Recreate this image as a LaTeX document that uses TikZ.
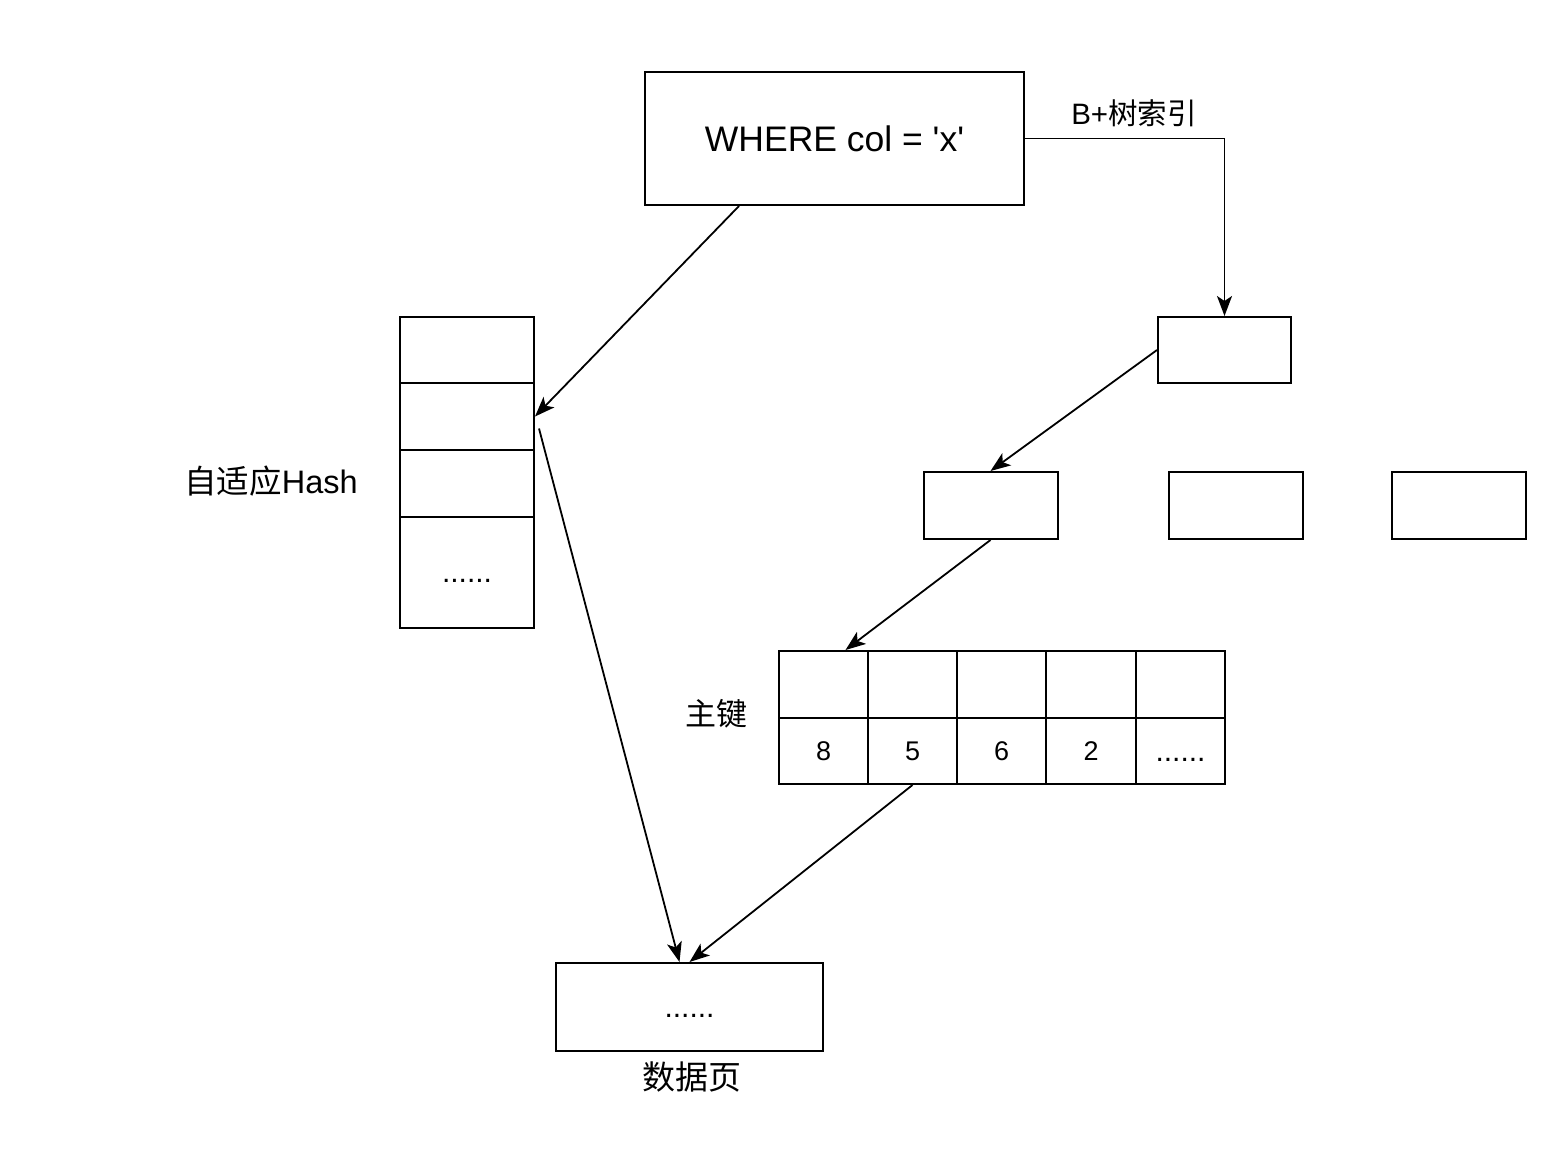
\documentclass[tikz,border=0pt]{standalone}
\usepackage{fontspec}
\setmainfont{Liberation Sans}
\newfontfamily\cjk{Noto Sans CJK SC}
\usetikzlibrary{arrows.meta,calc}
% six dots, set on the baseline of a digit so they sit low in the cell
\newcommand\sixdots{{\fontsize{30pt}{34pt}\selectfont\vphantom{8}......}}

\begin{document}
\begin{tikzpicture}[x=1pt,y=-1pt,
  box/.style={draw, line width=2pt, inner sep=0pt, minimum width=#1},
  box/.default=134pt,
  lbl/.style={inner sep=0pt, font=\fontsize{32.5pt}{36pt}\selectfont},
  cellnum/.style={font=\fontsize{27pt}{30pt}\selectfont},
  link/.style={line width=1.8pt, -{Stealth[length=20pt,width=15pt,inset=5pt]}}
]
\useasboundingbox (0,0) rectangle (1558,1164);

% query
\node[box=379pt, minimum height=133pt, font=\fontsize{35.5pt}{40pt}\selectfont]
  (q) at (834.5,138.5) {WHERE col = \textquotesingle x\textquotesingle};
\node[lbl, font=\fontsize{29.5pt}{32pt}\selectfont] (bl) at (1134,113) {B+{\cjk 树索引}};

% adaptive hash table
\node[box, minimum height=66pt]  (h1) at (467,350) {};
\node[box, minimum height=67pt]  (h2) at (467,416.5) {};
\node[box, minimum height=67pt]  (h3) at (467,483.5) {};
\node[box, minimum height=111pt, cellnum] (h4) at (467,572.5) {\sixdots};
\node[lbl] (hl) at (271,481) {{\cjk 自适应}Hash};

% B+ tree nodes
\node[box=133pt, minimum height=66pt] (root) at (1224.5,350) {};
\node[box, minimum height=67pt] (na) at (990.5,505.5) {};
\node[box, minimum height=67pt] (nb) at (1236,505.5) {};
\node[box, minimum height=67pt] (nc) at (1459,505.5) {};

% leaf: primary keys
\foreach \i/\x/\v in {1/823.5/8, 2/912.5/5, 3/1001.5/6, 4/1091/2, 5/1180.5/\sixdots}{
  \node[box=89.3pt, minimum height=67pt] (k\i) at (\x,684.5) {};
  \node[box=89.3pt, minimum height=66pt, cellnum] (v\i) at (\x,751) {\v};
}
\node[lbl, font=\fontsize{31pt}{36pt}\selectfont\cjk] (kl) at (716,714) {主键};

% data page
\node[box=267pt, minimum height=88pt, cellnum] (dp) at (689.5,1007) {\sixdots};
\node[lbl, font=\fontsize{33pt}{36pt}\selectfont\cjk] (dl) at (692,1077) {数据页};

% connectors
\coordinate (qs) at ($(q.south west)+(95,0)$);
\coordinate (hs) at ($(h2.east)+(4,12)$);
\draw[link] (qs) -- (h2.east);
\draw[link] (q.east) -| (root.north);
\draw[link] (root.west) -- (na.north);
\draw[link] (na.south) -- ($(k1.north)+(22,0)$);
\draw[link] (v2.south) -- (dp.north);
\draw[link] (hs) -- ($(dp.north)+(-10,0)$);
\end{tikzpicture}
\end{document}
